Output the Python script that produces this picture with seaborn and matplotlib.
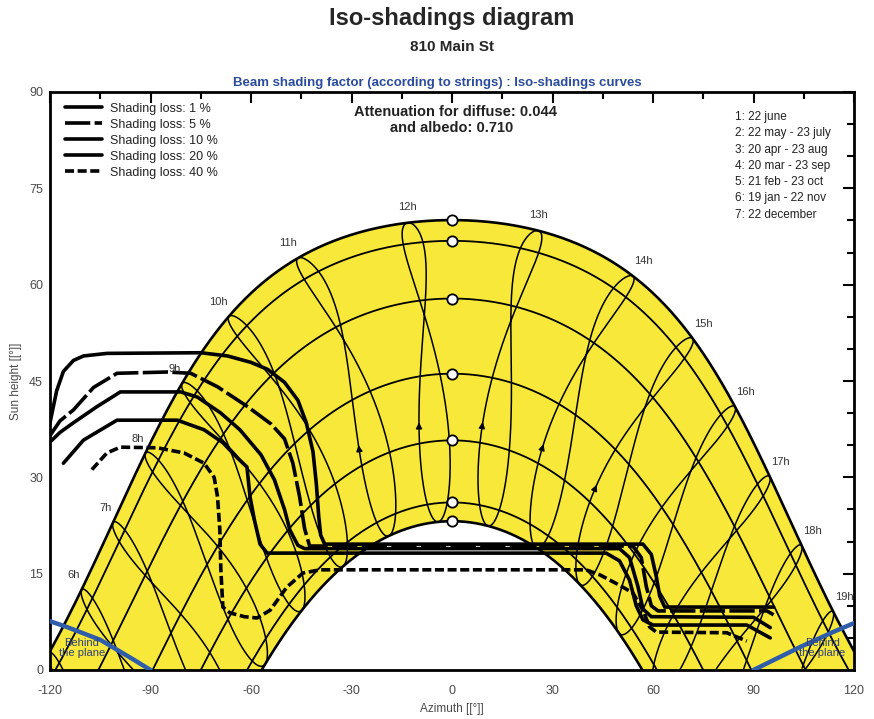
import numpy as np
import matplotlib
matplotlib.use("Agg")
import matplotlib.pyplot as plt
import seaborn as sns

# ---- site / time reference ------------------------------------------------
latitude = 43.4            # deg N
legal_minus_solar = 0.305  # hours between legal time and mean solar time

# ---- sun-path dates ---------------------------------------------------------
date_labels = ["1: 22 june", "2: 22 may - 23 july", "3: 20 apr - 23 aug",
               "4: 20 mar - 23 sep", "5: 21 feb - 23 oct", "6: 19 jan - 22 nov",
               "7: 22 december"]
date_days = [173, 142, 110, 79, 52, 19, 356]   # day of year of first date
hours = list(range(5, 21))
hour_labels = [6, 7, 8, 9, 10, 11, 12, 13, 14, 15, 16, 17, 18, 19]

# ---- iso-shading curves (azimuth, sun height) ------------------------------
loss_labels = ["Shading loss: 1 %", "Shading loss: 5 %", "Shading loss: 10 %",
               "Shading loss: 20 %", "Shading loss: 40 %"]

az_1 = [-120, -118, -116, -113, -110, -103, -75, -67, -60, -55, -50, -46, -43.5,
        -41.5, -40.5, -39.8, -39.2, -38, 57, 59.5, 61, 62, 63.5, 96]
h_1 = [38.5, 43.5, 46.5, 48.2, 48.9, 49.3, 49.4, 48.9, 47.9, 46.8, 44.8, 42.0, 38.5,
       34, 29, 24, 21, 19.6, 19.6, 18.0, 14.5, 11.5, 9.8, 9.8]

az_5 = [-120, -117, -113, -107, -100, -85, -78, -70, -61, -54, -50, -47.5, -45.5,
        -44, -42.5, 54, 56.5, 58, 59.5, 61.5, 94, 96]
h_5 = [36.5, 38.8, 40.5, 44, 46.2, 46.4, 46.2, 44.1, 41, 38.3, 36.0, 32.2, 27,
       22, 19.3, 19.3, 17.5, 13, 10, 9.2, 9.2, 8.6]

az_10 = [-120, -117, -113, -106, -99, -81, -76, -69, -63.3, -57, -53, -50,
         -48.4, -46, -44, 50, 53, 55.5, 57, 59.5, 90, 95]
h_10 = [35.5, 37, 38.5, 41, 43.3, 43.3, 42.5, 40, 37.4, 33.5, 29.6, 25,
        21.8, 19.4, 18.9, 18.9, 17.5, 13, 9.5, 8.3, 8.2, 6.6]

az_20 = [-116, -110, -100, -82, -74, -68.4, -64, -61.2, -60.3, -59, -57.3,
         -55.2, 46, 50, 53, 55, 57, 60, 88, 95]
h_20 = [32.2, 35.8, 38.9, 38.9, 37.4, 35.4, 33, 31.6, 27, 23.4, 19.6,
        18.2, 18.2, 17, 14, 10, 7.8, 7.0, 7.0, 5.0]

az_40 = [-107.5, -103, -99, -88, -80, -74, -71, -70, -69.3, -69, -68.4, -66.3,
         -62, -58.2, -54.3, -49.3, -44.5, -39.4, 40, 44.2, 50, 54, 57, 59, 61,
         82, 88]
h_40 = [31.2, 33.8, 34.7, 34.6, 33.8, 32.2, 30, 27, 21.8, 15.6, 9.8, 8.9,
        8.3, 8.1, 9.3, 12.9, 15.1, 15.6, 15.6, 14.8, 13.2, 12, 9.3, 6.7, 5.9,
        5.8, 4.5]

iso_az = [az_1, az_5, az_10, az_20, az_40]
iso_h = [h_1, h_5, h_10, h_20, h_40]

# ---- "behind the plane" limits ---------------------------------------------
behind_left_az = [-120, -115, -105, -95, -90]
behind_left_h = [7.6, 6.7, 4.7, 1.6, 0]
behind_right_az = [90, 104, 113.7, 120]
behind_right_h = [0, 3.6, 5.9, 7.3]

diffuse_att = 0.044
albedo_att = 0.710


# ---- solar geometry ---------------------------------------------------------
def declination(n):
    g = 2 * np.pi * (np.asarray(n) - 1) / 365.0
    d = (0.006918 - 0.399912 * np.cos(g) + 0.070257 * np.sin(g)
         - 0.006758 * np.cos(2 * g) + 0.000907 * np.sin(2 * g)
         - 0.002697 * np.cos(3 * g) + 0.00148 * np.sin(3 * g))
    return np.degrees(d)


def equation_of_time(n):
    g = 2 * np.pi * (np.asarray(n) - 1) / 365.0
    return 229.18 * (0.000075 + 0.001868 * np.cos(g) - 0.032077 * np.sin(g)
                     - 0.014615 * np.cos(2 * g) - 0.040849 * np.sin(2 * g))


def sun_position(dec, hour_angle):
    phi = np.radians(latitude)
    d = np.radians(dec)
    hh = np.radians(hour_angle)
    sin_alt = np.sin(phi) * np.sin(d) + np.cos(phi) * np.cos(d) * np.cos(hh)
    alt = np.degrees(np.arcsin(sin_alt))
    az = np.degrees(np.arctan2(np.sin(hh),
                               np.cos(hh) * np.sin(phi) - np.tan(d) * np.cos(phi)))
    return az, alt


sns.set_style("white")
plt.rcParams["font.family"] = ["Liberation Sans", "DejaVu Sans"]
plt.rcParams["axes.unicode_minus"] = False

fig = plt.figure(figsize=(8.74, 7.19), dpi=100)
ax = fig.add_axes([50 / 874, 49 / 719, 804 / 874, 578 / 719])

# sun paths for every date
paths = []
for n in date_days:
    dec = float(declination(n))
    h0 = np.degrees(np.arccos(-np.tan(np.radians(latitude)) * np.tan(np.radians(dec))))
    ha = np.linspace(-h0, h0, 600)
    az, alt = sun_position(dec, ha)
    paths.append((az, np.clip(alt, 0, None)))

# yellow band between summer and winter solstice paths
poly_x = np.r_[paths[0][0], paths[-1][0][::-1]]
poly_y = np.r_[paths[0][1], paths[-1][1][::-1]]
ax.fill(poly_x, poly_y, color="#F7E83A", zorder=1, lw=0)

for i, (az, alt) in enumerate(paths):
    ax.plot(az, alt, color="black", lw=1.9 if i in (0, 6) else 1.3, zorder=3)
    ax.scatter([0], [alt.max()], s=55, facecolor="white", edgecolor="black",
               linewidth=1.3, zorder=7)

# hour lines (analemmas), legal time
days = np.r_[np.arange(173, 366), np.arange(1, 174)]
dec_year = declination(days)
eot_year = equation_of_time(days)
for h in hours:
    ha = 15.0 * (h - legal_minus_solar + eot_year / 60.0 - 12.0)
    az, alt = sun_position(dec_year, ha)
    alt = np.where(alt < 0, np.nan, alt)
    ax.plot(az, alt, color="black", lw=1.1, zorder=2)
    if 11 <= h <= 15:
        k = 250
        if np.isfinite(alt[k]) and np.isfinite(alt[k + 4]):
            ax.annotate("", xy=(az[k + 4], alt[k + 4]), xytext=(az[k], alt[k]),
                        arrowprops=dict(arrowstyle="-|>", color="black", lw=1.0,
                                        mutation_scale=9), zorder=3)
    if h in hour_labels:
        jx, jy = sun_position(dec_year[0], ha[0])
        if h <= 11:
            off, ha_txt = (-1, 7), "right"
        elif h <= 13:
            off, ha_txt = (0, 8), "center"
        else:
            off, ha_txt = (1, 7), "left"
        ax.annotate(f"{h}h", xy=(jx, jy), xytext=off, textcoords="offset points",
                    ha=ha_txt, va="bottom", fontsize=8, color="#333333", zorder=8)

# iso-shading curves
styles = [dict(ls="-"), dict(ls=(0, (7, 1.2))), dict(ls="-"), dict(ls="-"),
          dict(ls=(0, (2.5, 1.0)))]
for az, hh, lab, st in zip(iso_az, iso_h, loss_labels, styles):
    sns.lineplot(x=az, y=hh, sort=False, estimator=None, ax=ax, color="black",
                 lw=2.6, label=lab, zorder=5, **st)

# behind the plane
for bx, by in ((behind_left_az, behind_left_h), (behind_right_az, behind_right_h)):
    ax.plot(bx, by, color="#2F5DAA", lw=3.2, zorder=6, solid_capstyle="round")
ax.text(-110.5, 3.4, "Behind\nthe plane", ha="center", va="center", fontsize=8,
        color="#2E3F7A", linespacing=0.95, zorder=6)
ax.text(110.5, 3.4, "Behind\nthe plane", ha="center", va="center", fontsize=8,
        color="#2E3F7A", linespacing=0.95, zorder=6)

ax.set_xlim(-120, 120)
ax.set_ylim(0, 90)
ax.set_xticks(np.arange(-120, 121, 30))
ax.set_xticks(np.arange(-105, 120, 30), minor=True)
ax.set_yticks(np.arange(0, 91, 15))
ax.set_yticks(np.arange(0, 91, 5), minor=True)
ax.tick_params(which="both", direction="in", top=True, right=True, width=1.5,
               colors="black", labelcolor="#4a4a4a", labelsize=9)
ax.tick_params(which="major", length=8)
ax.tick_params(which="minor", length=5)
ax.tick_params(axis="x", which="major", pad=11)
ax.tick_params(axis="y", which="major", pad=5)
for s in ax.spines.values():
    s.set_linewidth(2)
    s.set_color("black")
ax.set_xlabel("Azimuth [[°]]", fontsize=8.5, color="#4a4a4a", labelpad=4)
ax.set_ylabel("Sun height [[°]]", fontsize=8.5, color="#4a4a4a", labelpad=5)

leg = ax.legend(loc="upper left", bbox_to_anchor=(0.012, 0.99), frameon=False,
                fontsize=9, handlelength=3.0, handletextpad=0.6, labelspacing=0.32,
                borderaxespad=0)
for t in leg.get_texts():
    t.set_color("#222222")

# headings
fig.text(452 / 874, 1 - 18 / 719, "Iso-shadings diagram", ha="center", va="center",
         fontsize=17, fontweight="bold")
fig.text(452 / 874, 1 - 47 / 719, "810 Main St", ha="center", va="center",
         fontsize=11, fontweight="bold")
fig.text(437 / 874, 1 - 83 / 719,
         "Beam shading factor (according to strings) : Iso-shadings curves",
         ha="center", va="center", fontsize=9.5, fontweight="bold", color="#2B4C9B")
fig.text(456 / 874, 1 - 112 / 719, f"Attenuation for diffuse: {diffuse_att:.3f}",
         ha="center", va="center", fontsize=10.5, fontweight="bold", color="#222222")
fig.text(452 / 874, 1 - 128 / 719, f"and albedo: {albedo_att:.3f}",
         ha="center", va="center", fontsize=10.5, fontweight="bold", color="#222222")

for i, lab in enumerate(date_labels):
    fig.text(735 / 874, 1 - (117 + 16.3 * i) / 719, lab, ha="left", va="center",
             fontsize=8.5, color="#222222")

fig.savefig("out.png", dpi=100)
